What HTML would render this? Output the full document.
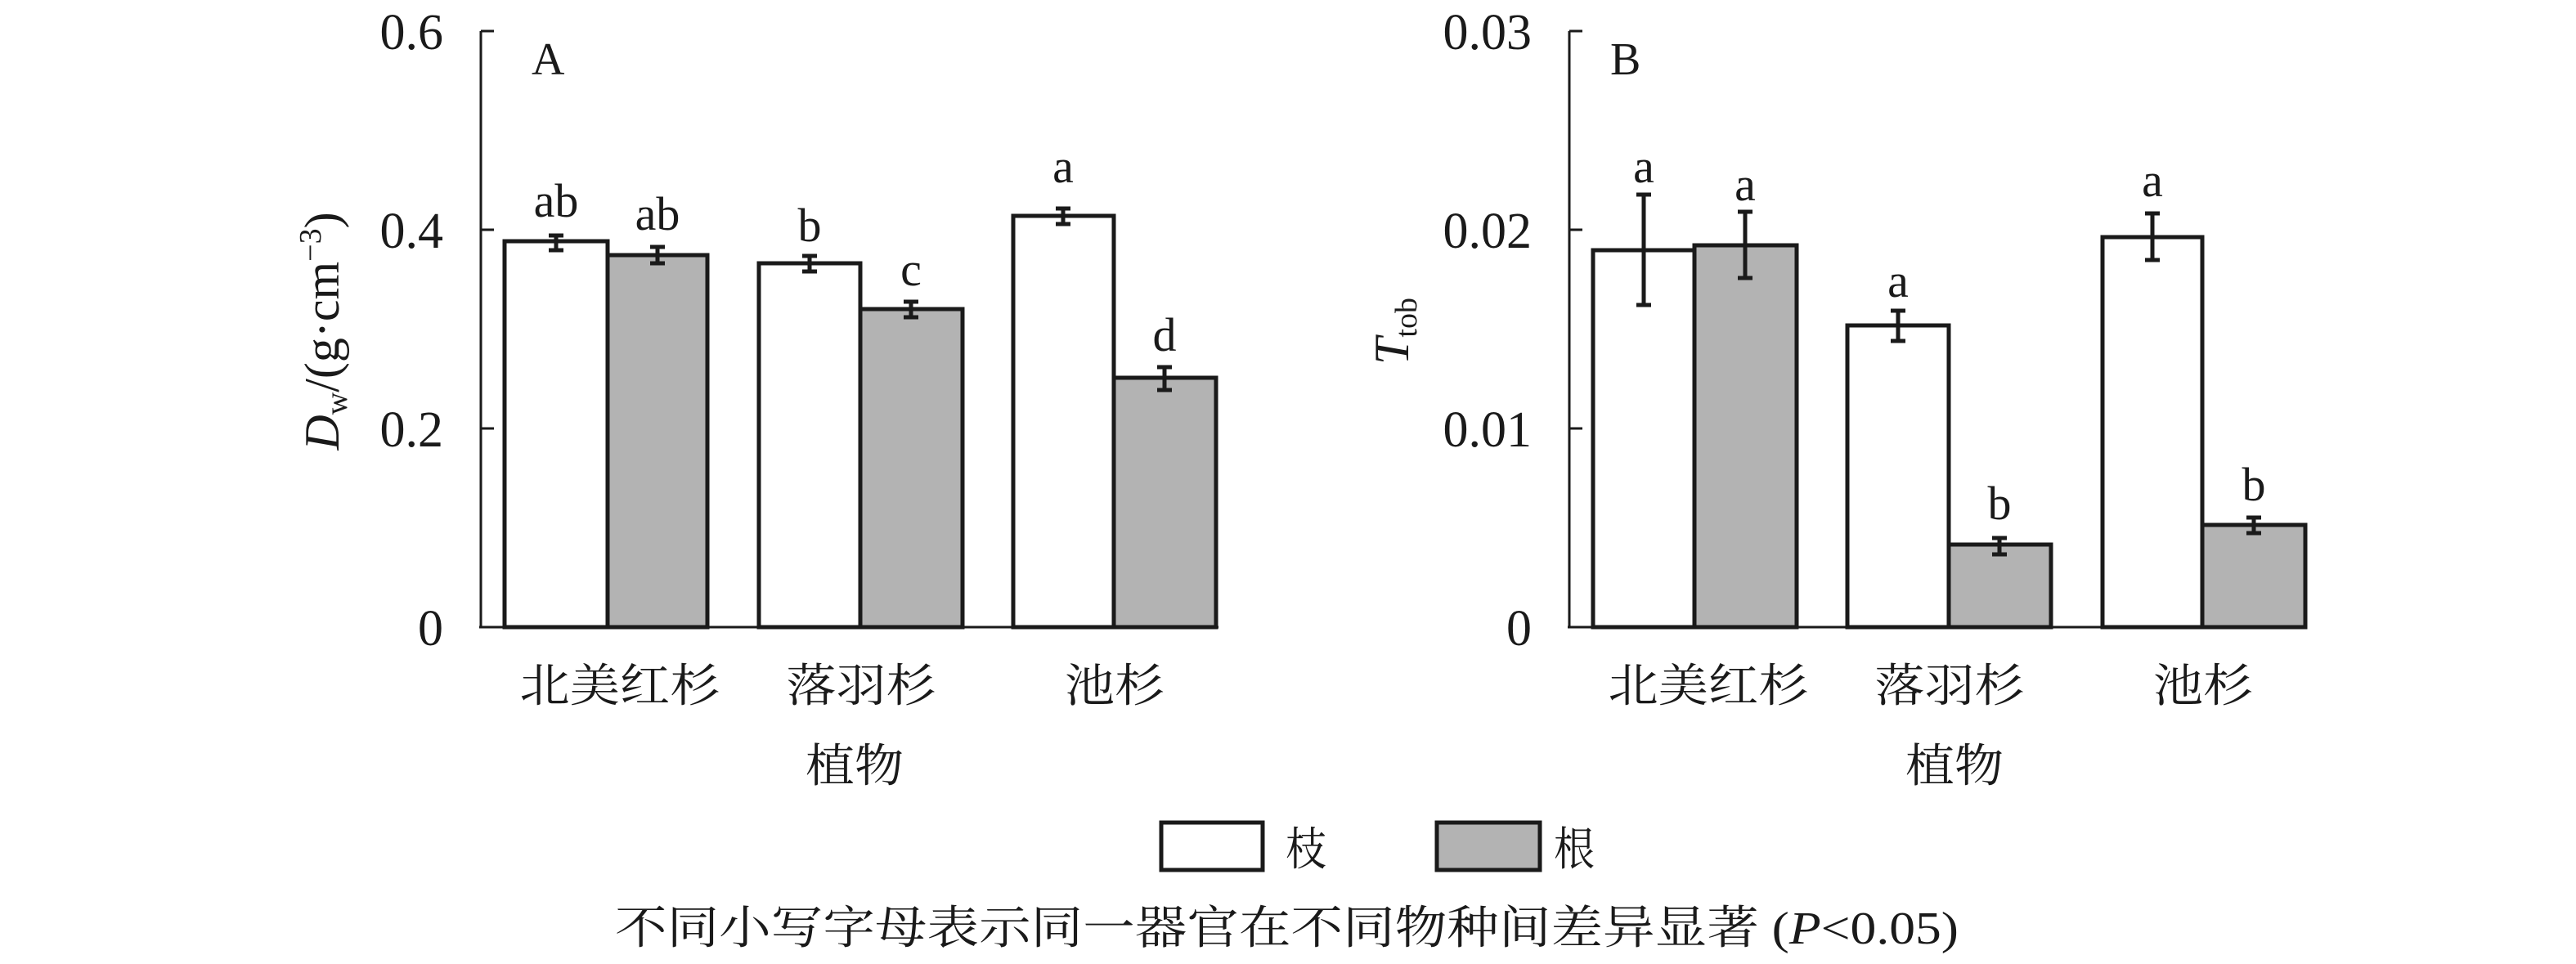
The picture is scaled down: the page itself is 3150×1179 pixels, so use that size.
<!DOCTYPE html>
<html><head><meta charset="utf-8"><style>
html,body{margin:0;padding:0;background:#fff;}
svg{display:block;}
text{font-family:"Liberation Serif","Noto Serif CJK SC","Noto Sans CJK SC",serif;fill:#1a1a1a;}
.cj{font-family:"Noto Serif CJK SC","Noto Sans CJK SC",serif;}
</style></head><body>
<svg width="3150" height="1179" viewBox="0 0 3150 1179" xmlns="http://www.w3.org/2000/svg">
<g stroke="#1a1a1a" fill="none">
<line x1="588" y1="38" x2="588" y2="768" stroke-width="3"/>
<line x1="586" y1="767" x2="1490" y2="767" stroke-width="3"/>
<line x1="588" y1="38" x2="604" y2="38" stroke-width="3"/>
<line x1="588" y1="281" x2="604" y2="281" stroke-width="3"/>
<line x1="588" y1="524" x2="604" y2="524" stroke-width="3"/>
<line x1="1919" y1="38" x2="1919" y2="768" stroke-width="3"/>
<line x1="1917" y1="767" x2="2821" y2="767" stroke-width="3"/>
<line x1="1919" y1="38" x2="1935" y2="38" stroke-width="3"/>
<line x1="1919" y1="281" x2="1935" y2="281" stroke-width="3"/>
<line x1="1919" y1="524" x2="1935" y2="524" stroke-width="3"/>
</g>
<g stroke="#1a1a1a" stroke-width="5">
<rect x="617" y="295" width="126" height="472" fill="#fff"/>
<rect x="743" y="312" width="122" height="455" fill="#b3b3b3"/>
<rect x="928" y="322" width="124" height="445" fill="#fff"/>
<rect x="1052" y="378" width="125" height="389" fill="#b3b3b3"/>
<rect x="1239" y="264" width="123" height="503" fill="#fff"/>
<rect x="1362" y="462" width="125" height="305" fill="#b3b3b3"/>
<rect x="1948" y="306" width="124" height="461" fill="#fff"/>
<rect x="2072" y="300" width="125" height="467" fill="#b3b3b3"/>
<rect x="2259" y="398" width="124" height="369" fill="#fff"/>
<rect x="2383" y="666" width="125" height="101" fill="#b3b3b3"/>
<rect x="2571" y="290" width="122" height="477" fill="#fff"/>
<rect x="2693" y="642" width="126" height="125" fill="#b3b3b3"/>
</g>
<g stroke="#1a1a1a" stroke-width="5" fill="none">
<path d="M680 288V306M671 288H689M671 306H689"/>
<path d="M804 302V322M795 302H813M795 322H813"/>
<path d="M990 313V332M981 313H999M981 332H999"/>
<path d="M1114 369V388M1105 369H1123M1105 388H1123"/>
<path d="M1300 255V274M1291 255H1309M1291 274H1309"/>
<path d="M1424 449V477M1415 449H1433M1415 477H1433"/>
<path d="M2010 238V373M2001 238H2019M2001 373H2019"/>
<path d="M2134 259V340M2125 259H2143M2125 340H2143"/>
<path d="M2321 380V417M2312 380H2330M2312 417H2330"/>
<path d="M2445 658V678M2436 658H2454M2436 678H2454"/>
<path d="M2632 261V318M2623 261H2641M2623 318H2641"/>
<path d="M2756 633V652M2747 633H2765M2747 652H2765"/>
</g>
<g font-size="62" text-anchor="end">
<text x="542" y="60">0.6</text>
<text x="542" y="303">0.4</text>
<text x="542" y="546">0.2</text>
<text x="542" y="789">0</text>
<text x="1873" y="60">0.03</text>
<text x="1873" y="303">0.02</text>
<text x="1873" y="546">0.01</text>
<text x="1873" y="789">0</text>
</g>
<text x="650" y="91" font-size="56">A</text>
<text x="1969" y="91" font-size="56">B</text>
<g font-size="58" text-anchor="middle">
<text x="680" y="265">ab</text>
<text x="804" y="281">ab</text>
<text x="990" y="295">b</text>
<text x="1114" y="349">c</text>
<text x="1300" y="223">a</text>
<text x="1424" y="429">d</text>
<text x="2010" y="223">a</text>
<text x="2134" y="245">a</text>
<text x="2321" y="363">a</text>
<text x="2445" y="635">b</text>
<text x="2632" y="240">a</text>
<text x="2756" y="612">b</text>
</g>
<text transform="translate(414,405) rotate(-90)" font-size="60" text-anchor="middle"><tspan font-style="italic">D</tspan><tspan font-size="38" dy="10">w</tspan><tspan dy="-10">/(g·cm</tspan><tspan font-size="38" dy="-22">−3</tspan><tspan dy="22">)</tspan></text>
<text transform="translate(1722,405) rotate(-90)" font-size="60" text-anchor="middle"><tspan font-style="italic">T</tspan><tspan font-size="38" dy="10">tob</tspan></text>
<g font-size="56" text-anchor="middle" class="cj">
<text x="758" y="858" textLength="245" lengthAdjust="spacingAndGlyphs">北美红杉</text>
<text x="1053" y="858" textLength="183" lengthAdjust="spacingAndGlyphs">落羽杉</text>
<text x="1363" y="858" textLength="122" lengthAdjust="spacingAndGlyphs">池杉</text>
<text x="1045" y="956" textLength="120" lengthAdjust="spacingAndGlyphs">植物</text>
<text x="2089" y="858" textLength="245" lengthAdjust="spacingAndGlyphs">北美红杉</text>
<text x="2384" y="858" textLength="183" lengthAdjust="spacingAndGlyphs">落羽杉</text>
<text x="2694" y="858" textLength="122" lengthAdjust="spacingAndGlyphs">池杉</text>
<text x="2390" y="956" textLength="120" lengthAdjust="spacingAndGlyphs">植物</text>
</g>
<rect x="1420" y="1006" width="124" height="58" fill="#fff" stroke="#1a1a1a" stroke-width="5"/>
<rect x="1757" y="1006" width="126" height="58" fill="#b3b3b3" stroke="#1a1a1a" stroke-width="5"/>
<text x="1572" y="1058" font-size="56" class="cj" textLength="50" lengthAdjust="spacingAndGlyphs">枝</text>
<text x="1900" y="1058" font-size="56" class="cj" textLength="50" lengthAdjust="spacingAndGlyphs">根</text>
<text x="752" y="1154" font-size="56" textLength="1643" lengthAdjust="spacingAndGlyphs"><tspan class="cj">不同小写字母表示同一器官在不同物种间差异显著</tspan> (<tspan font-style="italic">P</tspan>&lt;0.05)</text>
</svg>
</body></html>
